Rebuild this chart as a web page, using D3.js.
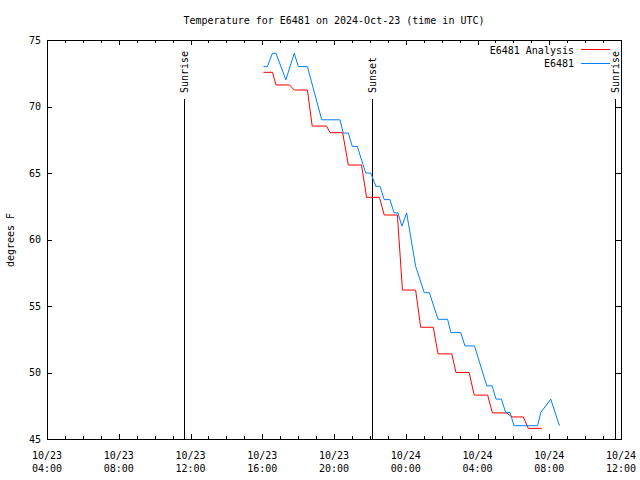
<!DOCTYPE html>
<html><head><meta charset="utf-8">
<script src="https://cdn.jsdelivr.net/npm/d3@7"></script>
<style>
body{margin:0;background:#fff;}
text{font-family:"DejaVu Sans Mono",monospace;font-size:10px;fill:#000;}
</style></head>
<body><svg id="c" width="640" height="480"></svg>
<script>
const title = "Temperature for E6481 on 2024-Oct-23 (time in UTC)";
const yLabel = "degrees F";
const seriesNames = ["E6481 Analysis", "E6481"];
const seriesColors = ["#ff0000", "#0080ff"];
const xDomain = ["2024-10-23T04:00Z", "2024-10-24T12:00Z"];
const yDomain = [45, 75];
const yTicks = [45, 50, 55, 60, 65, 70, 75];

const analysisTimes = ["2024-10-23T16:04Z","2024-10-23T16:34Z","2024-10-23T16:46Z","2024-10-23T17:31Z","2024-10-23T17:47Z","2024-10-23T18:31Z","2024-10-23T18:47Z","2024-10-23T19:35Z","2024-10-23T19:47Z","2024-10-23T20:29Z","2024-10-23T20:48Z","2024-10-23T21:32Z","2024-10-23T21:49Z","2024-10-23T22:32Z","2024-10-23T22:48Z","2024-10-23T23:32Z","2024-10-23T23:49Z","2024-10-24T00:33Z","2024-10-24T00:50Z","2024-10-24T01:32Z","2024-10-24T01:48Z","2024-10-24T02:34Z","2024-10-24T02:48Z","2024-10-24T03:32Z","2024-10-24T03:49Z","2024-10-24T04:34Z","2024-10-24T04:50Z","2024-10-24T05:38Z","2024-10-24T05:55Z","2024-10-24T06:33Z","2024-10-24T06:50Z","2024-10-24T07:35Z"];
const analysisValues = [72.57,72.57,71.62,71.62,71.24,71.24,68.53,68.53,68.03,68.03,65.6,65.6,63.17,63.17,61.84,61.84,56.2,56.2,53.4,53.4,51.4,51.4,50.0,50.0,48.3,48.3,46.96,46.96,46.66,46.66,45.8,45.8];

const obsTimes = ["2024-10-23T16:04Z","2024-10-23T16:17Z","2024-10-23T16:34Z","2024-10-23T16:46Z","2024-10-23T17:19Z","2024-10-23T17:47Z","2024-10-23T18:01Z","2024-10-23T18:31Z","2024-10-23T19:19Z","2024-10-23T20:20Z","2024-10-23T20:31Z","2024-10-23T20:48Z","2024-10-23T21:01Z","2024-10-23T21:18Z","2024-10-23T21:46Z","2024-10-23T22:03Z","2024-10-23T22:20Z","2024-10-23T22:34Z","2024-10-23T22:48Z","2024-10-23T23:07Z","2024-10-23T23:21Z","2024-10-23T23:34Z","2024-10-23T23:47Z","2024-10-24T00:03Z","2024-10-24T00:33Z","2024-10-24T01:02Z","2024-10-24T01:19Z","2024-10-24T01:48Z","2024-10-24T02:20Z","2024-10-24T02:31Z","2024-10-24T03:04Z","2024-10-24T03:18Z","2024-10-24T03:50Z","2024-10-24T04:31Z","2024-10-24T04:49Z","2024-10-24T05:02Z","2024-10-24T05:20Z","2024-10-24T05:34Z","2024-10-24T05:49Z","2024-10-24T06:02Z","2024-10-24T07:21Z","2024-10-24T07:32Z","2024-10-24T08:05Z","2024-10-24T08:34Z"];
const obsValues = [73,73,74,74,72,74,73,73,69,69,68,68,67,67,65,65,64,64,63,63,62,62,61,62,58,56,56,54,54,53,53,52,52,49,49,48,48,47,47,46,46,47,48,46];

const sunEvents = ["Sunrise", "Sunset", "Sunrise"];
const sunTimes = ["2024-10-23T11:38Z", "2024-10-23T22:07Z", "2024-10-24T11:40Z"];

const W = 640, H = 480;
const m = {l: 47, r: 19, t: 40, b: 41};
const svg = d3.select("#c");
const x = d3.scaleUtc().domain(xDomain.map(d => new Date(d))).range([m.l, W - m.r]);
const y = d3.scaleLinear().domain(yDomain).range([H - m.b, m.t]);
const crisp = "crispEdges";

const xEnd = new Date(new Date(xDomain[1]).getTime() + 1);
const majorT = d3.utcHour.every(4).range(new Date(xDomain[0]), xEnd);
const minorT = d3.utcHour.every(1).range(new Date(xDomain[0]), xEnd);
const fmtD = d3.utcFormat("%m/%d"), fmtT = d3.utcFormat("%H:%M");

function addAxis(axis, tx, ty) {
  svg.append("g").attr("transform", `translate(${tx},${ty})`).call(axis);
}
addAxis(d3.axisBottom(x).tickValues(majorT).tickSizeInner(-5).tickSizeOuter(0).tickFormat(""), 0, H - m.b);
addAxis(d3.axisBottom(x).tickValues(minorT).tickSizeInner(-3).tickSizeOuter(0).tickFormat(""), 0, H - m.b);
addAxis(d3.axisTop(x).tickValues(majorT).tickSizeInner(-5).tickSizeOuter(0).tickFormat(""), 0, m.t);
addAxis(d3.axisTop(x).tickValues(minorT).tickSizeInner(-3).tickSizeOuter(0).tickFormat(""), 0, m.t);
addAxis(d3.axisLeft(y).tickValues(yTicks).tickSizeInner(-5).tickSizeOuter(0).tickFormat(""), m.l, 0);
addAxis(d3.axisRight(y).tickValues(yTicks).tickSizeInner(-5).tickSizeOuter(0).tickFormat(""), W - m.r, 0);
svg.selectAll(".domain").remove();
svg.selectAll(".tick line").attr("stroke", "#000").attr("shape-rendering", crisp);

const xl = svg.append("g");
majorT.forEach(t => {
  xl.append("text").attr("x", x(t)).attr("y", 459).attr("text-anchor", "middle").text(fmtD(t));
  xl.append("text").attr("x", x(t)).attr("y", 472).attr("text-anchor", "middle").text(fmtT(t));
});
yTicks.forEach(v => {
  svg.append("text").attr("x", 41).attr("y", y(v)).attr("dy", "0.35em").attr("text-anchor", "end").text(v);
});

svg.append("rect").attr("x", m.l + 0.5).attr("y", m.t + 0.5)
  .attr("width", W - m.l - m.r).attr("height", H - m.t - m.b)
  .attr("fill", "none").attr("stroke", "#000").attr("shape-rendering", crisp);

sunTimes.forEach((s, i) => {
  const sx = Math.round(x(new Date(s))) + 0.5;
  svg.append("line").attr("x1", sx).attr("x2", sx).attr("y1", 99).attr("y2", H - m.b)
    .attr("stroke", "#000").attr("shape-rendering", crisp);
  svg.append("text").attr("transform", `translate(${sx},93) rotate(-90)`)
    .attr("dy", "0.35em").attr("text-anchor", "start").text(sunEvents[i]);
});

const line = d3.line().x(d => x(d[0])).y(d => y(d[1]));
const aData = analysisTimes.map((t, i) => [new Date(t), analysisValues[i]]);
const oData = obsTimes.map((t, i) => [new Date(t), obsValues[i]]);
svg.append("path").datum(aData).attr("d", line).attr("fill", "none")
  .attr("stroke", seriesColors[0]).attr("stroke-width", 1);
svg.append("path").datum(oData).attr("d", line).attr("fill", "none")
  .attr("stroke", seriesColors[1]).attr("stroke-width", 1);

seriesNames.forEach((n, i) => {
  const ly = 50 + i * 13.5;
  svg.append("text").attr("x", 574).attr("y", ly).attr("dy", "0.35em").attr("text-anchor", "end").text(n);
  svg.append("line").attr("x1", 581).attr("x2", 610).attr("y1", ly - 0.5).attr("y2", ly - 0.5)
    .attr("stroke", seriesColors[i]).attr("shape-rendering", crisp);
});

svg.append("text").attr("x", 334).attr("y", 20).attr("dy", "0.35em").attr("text-anchor", "middle").text(title);
svg.append("text").attr("transform", "translate(10,240) rotate(-90)").attr("dy", "0.35em")
  .attr("text-anchor", "middle").text(yLabel);
</script></body></html>
